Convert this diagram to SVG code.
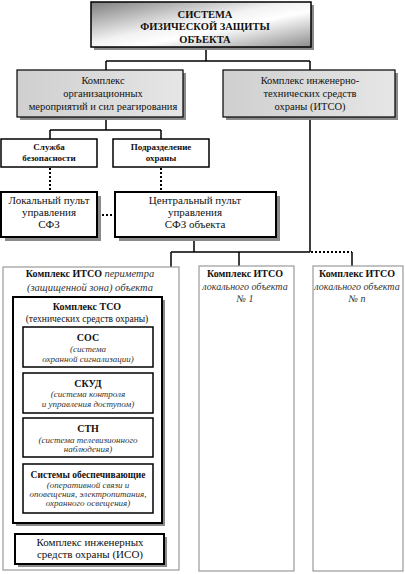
<svg xmlns="http://www.w3.org/2000/svg" width="405" height="574" viewBox="0 0 405 574">
<defs>
<linearGradient id="gTop" x1="0" y1="0" x2="1" y2="1">
<stop offset="0" stop-color="#7e7e7e"/>
<stop offset="0.45" stop-color="#f2f2f2"/>
<stop offset="0.6" stop-color="#ffffff"/>
<stop offset="1" stop-color="#8c8c8c"/>
</linearGradient>
<linearGradient id="gL2" x1="0" y1="0" x2="1" y2="0">
<stop offset="0" stop-color="#cfcfcf"/>
<stop offset="1" stop-color="#e6e6e6"/>
</linearGradient>
</defs>
<style>
text{font-family:"Liberation Serif","Times New Roman",serif;fill:#111;text-anchor:middle}
.b{font-weight:bold}
.i{font-style:italic;fill:#333}
.box{fill:#fff;stroke:#000;stroke-width:1.5}
.thick{fill:#fff;stroke:#000;stroke-width:2}
.gray{fill:#fff;stroke:#9a9a9a;stroke-width:1.2}
.sh{fill:#8a8a8a}
.ln{fill:none;stroke:#000;stroke-width:1.5}
.dot{fill:none;stroke:#000;stroke-width:2;stroke-dasharray:2 2}
</style>

<g id="connectors">
<path class="ln" d="M206,47 V61 M106,61 H310 M106,61 V70 M310,61 V70"/>
<path class="ln" d="M106,117 V130 M50,130 H161 M50,130 V139 M161,130 V139"/>
<path class="dot" d="M50,168 V192 M161,168 V192 M98,215 H115"/>
<path class="ln" d="M194,237 V252 M171,252 H310 M310,117 V252 M239,252 V266 M352,252 V266"/>
<path class="dot" d="M311,252 H352"/>
<path class="ln" d="M171,252 V548 H164 M153,348 H171 M153,393 H171 M153,439 H171 M153,488 H171"/>
</g>

<g id="top">
<rect class="sh" x="94" y="5" width="220" height="45" fill="#444"/>
<rect x="91" y="2" width="220" height="45" fill="url(#gTop)" stroke="#000" stroke-width="1.5"/>
<text class="b" x="205" y="18" font-size="10.5">СИСТЕМА</text>
<text class="b" x="205" y="30" font-size="10.5">ФИЗИЧЕСКОЙ ЗАЩИТЫ</text>
<text class="b" x="205" y="43" font-size="10.5">ОБЪЕКТА</text>
</g>

<g id="org">
<rect class="sh" x="20" y="73" width="166" height="47"/>
<rect x="17" y="70" width="166" height="47" fill="url(#gL2)" stroke="#000" stroke-width="1.2"/>
<text x="103" y="84" font-size="10.5">Комплекс</text>
<text x="103" y="97" font-size="10.5">организационных</text>
<text x="103" y="110" font-size="10.5">мероприятий и сил реагирования</text>
</g>

<g id="itso">
<rect class="sh" x="226" y="73" width="172" height="47"/>
<rect x="223" y="70" width="172" height="47" fill="url(#gL2)" stroke="#000" stroke-width="1.2"/>
<text x="310" y="84" font-size="10.5">Комплекс инженерно-</text>
<text x="310" y="97" font-size="10.5">технических  средств</text>
<text x="310" y="110" font-size="10.5">охраны (ИТСО)</text>
</g>

<g id="sb">
<rect class="box" x="1" y="139" width="96" height="28"/>
<text class="b" x="49" y="150" font-size="9">Служба</text>
<text class="b" x="49" y="161" font-size="9">безопасности</text>
</g>

<g id="po">
<rect class="box" x="113" y="139" width="96" height="28"/>
<text class="b" x="161" y="150" font-size="9">Подразделение</text>
<text class="b" x="161" y="161" font-size="9">охраны</text>
</g>

<g id="lp">
<rect class="sh" x="5" y="196" width="96" height="45"/>
<rect class="thick" x="1" y="192" width="96" height="45"/>
<text x="49" y="204" font-size="11">Локальный пульт</text>
<text x="49" y="216" font-size="11">управления</text>
<text x="49" y="228" font-size="11">СФЗ</text>
</g>

<g id="cp">
<rect class="sh" x="119" y="196" width="161" height="45"/>
<rect class="thick" x="115" y="192" width="161" height="45"/>
<text x="195" y="204" font-size="11">Центральный пульт</text>
<text x="195" y="216" font-size="11">управления</text>
<text x="195" y="228" font-size="11">СФЗ объекта</text>
</g>

<g id="perim">
<rect class="gray" x="3" y="267" width="176" height="303"/>
<text x="90" y="277" font-size="10"><tspan class="b">Комплекс ИТСО </tspan><tspan class="i" font-size="10.5">периметра</tspan></text>
<text class="i" x="90" y="291" font-size="10.5">(защищенной зона) объекта</text>
</g>

<g id="tso">
<rect class="sh" x="16" y="300" width="149" height="226" fill="#aaa"/>
<rect class="thick" x="13" y="297" width="149" height="226"/>
<text class="b" x="87" y="310" font-size="10">Комплекс ТСО</text>
<text x="87" y="322" font-size="9.5">(технических средств охраны)</text>
</g>

<g id="sos">
<rect class="box" x="23" y="327" width="130" height="40"/>
<text class="b" x="88" y="341" font-size="10">СОС</text>
<text class="i" x="88" y="352" font-size="9">(система</text>
<text class="i" x="88" y="362" font-size="9">охранной сигнализации)</text>
</g>

<g id="skud">
<rect class="box" x="23" y="373" width="130" height="40"/>
<text class="b" x="88" y="387" font-size="10">СКУД</text>
<text class="i" x="88" y="397" font-size="9">(система контроля</text>
<text class="i" x="88" y="407" font-size="9">и управления доступом)</text>
</g>

<g id="stn">
<rect class="box" x="23" y="418" width="130" height="39"/>
<text class="b" x="88" y="432" font-size="10">СТН</text>
<text class="i" x="88" y="443" font-size="9">(система телевизионного</text>
<text class="i" x="88" y="452" font-size="9">наблюдения)</text>
</g>

<g id="sys">
<rect class="box" x="23" y="464" width="130" height="49"/>
<text class="b" x="88" y="478" font-size="9.5">Системы обеспечивающие</text>
<text class="i" x="88" y="488" font-size="9">(оперативной связи и</text>
<text class="i" x="88" y="497" font-size="9">оповещения, электропитания,</text>
<text class="i" x="88" y="506" font-size="9">охранного освещения)</text>
</g>

<g id="iso">
<rect class="sh" x="18" y="537" width="149" height="30" fill="#aaa"/>
<rect class="thick" x="15" y="534" width="149" height="30"/>
<text x="90" y="546" font-size="11">Комплекс инженерных</text>
<text x="90" y="558" font-size="11">средств охраны (ИСО)</text>
</g>

<g id="loc1">
<rect class="gray" x="199" y="266" width="95" height="305"/>
<text class="b" x="245" y="277" font-size="10">Комплекс ИТСО</text>
<text class="i" x="245" y="290" font-size="10">локального объекта</text>
<text class="i" x="245" y="302" font-size="10">№ 1</text>
</g>

<g id="locn">
<rect class="gray" x="313" y="266" width="90" height="305"/>
<text class="b" x="357" y="277" font-size="10">Комплекс ИТСО</text>
<text class="i" x="357" y="290" font-size="10">локального объекта</text>
<text class="i" x="357" y="302" font-size="10">№ n</text>
</g>
</svg>
